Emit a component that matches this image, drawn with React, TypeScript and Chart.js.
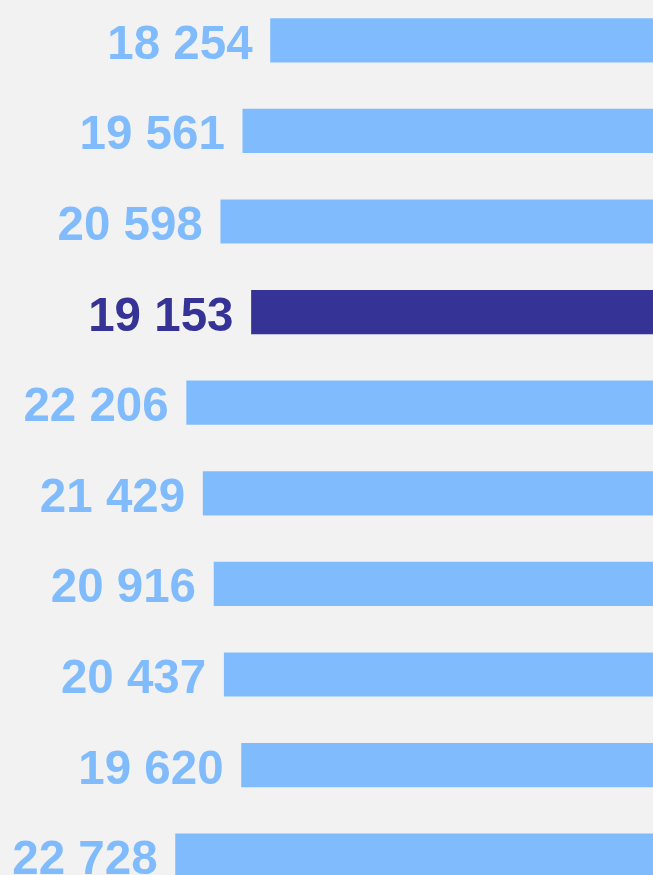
import React, { useEffect, useRef } from "react";
import { Chart, registerables } from "chart.js";

Chart.register(...registerables);

const categories = ["A", "B", "C", "D", "E", "F", "G", "H", "I", "J"];
const values = [18254, 19561, 20598, 19153, 22206, 21429, 20916, 20437, 19620, 22728];
const highlightIndex = 3;

const LIGHT = "#80bcfd";
const DARK = "#363397";
const FONT_SIZE = 47.5;

const fmt = (v: number) => String(v).replace(/\B(?=(\d{3})+(?!\d))/g, " ");

const labelPlugin = {
  id: "barLabels",
  afterDatasetsDraw(chart: any) {
    const ctx = chart.ctx;
    const meta = chart.getDatasetMeta(0);
    ctx.save();
    ctx.font = `bold ${FONT_SIZE}px "Liberation Sans", Arial, sans-serif`;
    ctx.textAlign = "right";
    ctx.textBaseline = "alphabetic";
    meta.data.forEach((el: any, i: number) => {
      ctx.fillStyle = i === highlightIndex ? DARK : LIGHT;
      ctx.fillText(fmt(values[i]), el.x - 18, el.y + FONT_SIZE * 0.37 + 1);
    });
    ctx.restore();
  },
};

export default function App() {
  const ref = useRef<HTMLCanvasElement | null>(null);
  useEffect(() => {
    document.body.style.margin = "0";
    document.body.style.background = "#f2f2f2";
    const chart = new Chart(ref.current as HTMLCanvasElement, {
      type: "bar",
      data: {
        labels: categories,
        datasets: [
          {
            data: values,
            backgroundColor: values.map((_, i) => (i === highlightIndex ? DARK : LIGHT)),
            barThickness: 43.5,
            borderWidth: 0,
          },
        ],
      },
      options: {
        indexAxis: "y",
        animation: false,
        responsive: false,
        devicePixelRatio: 1,
        layout: { padding: 0 },
        plugins: { legend: { display: false }, tooltip: { enabled: false } },
        scales: {
          x: { display: false, reverse: true, min: 0, max: 31000 },
          y: { display: false },
        },
      },
      plugins: [labelPlugin],
    });
    return () => chart.destroy();
  }, []);
  return (
    <div
      style={{
        position: "fixed",
        left: 0,
        top: 0,
        width: 653,
        height: 875,
        overflow: "hidden",
        background: "#f2f2f2",
      }}
    >
      <canvas
        ref={ref}
        width={658}
        height={906}
        style={{ position: "absolute", left: 0, top: -5, width: 658, height: 906 }}
      />
    </div>
  );
}
